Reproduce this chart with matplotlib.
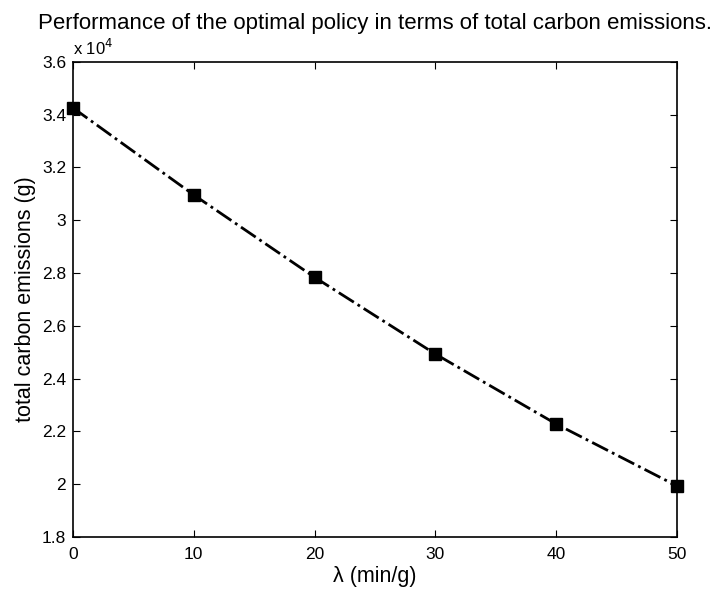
import matplotlib.pyplot as plt
from matplotlib.ticker import FuncFormatter

# datos
lam = [0, 10, 20, 30, 40, 50]
emissions = [34260, 30960, 27840, 24930, 22280, 19930]   # gramos
y_ticks = [18000, 20000, 22000, 24000, 26000, 28000, 30000, 32000, 34000, 36000]
x_ticks = [0, 10, 20, 30, 40, 50]

plt.rcParams['font.family'] = ['Liberation Sans', 'DejaVu Sans']

fig = plt.figure(figsize=(7.15, 5.95), dpi=100)
ax = fig.add_axes([0.102, 0.0975, 0.845, 0.7985])

ax.plot(lam, emissions, color='black', linestyle='-.', linewidth=2,
        marker='s', markersize=8.5, clip_on=False, zorder=3)

ax.set_xlim(0, 50)
ax.set_ylim(18000, 36000)
ax.set_xticks(x_ticks)
ax.set_yticks(y_ticks)
ax.yaxis.set_major_formatter(FuncFormatter(lambda v, p: '%g' % (v / 1e4)))

# estilo tipo MATLAB: ticks hacia dentro en los cuatro lados
ax.tick_params(axis='both', direction='in', top=True, right=True,
               labelsize=12.5, length=5, width=0.8)
ax.tick_params(axis='x', pad=7)
ax.tick_params(axis='y', pad=5)
for s in ax.spines.values():
    s.set_linewidth(1.2)

ax.text(0.0, 1.008, r'x 10$^4$', transform=ax.transAxes, fontsize=12,
        ha='left', va='bottom')

ax.set_title('Performance of the optimal policy in terms of total carbon emissions.',
             fontsize=16, pad=24)
ax.set_xlabel('λ (min/g)', fontsize=15.5, labelpad=3)
ax.set_ylabel('total carbon emissions (g)', fontsize=15.5, labelpad=4)

fig.savefig('out.png', dpi=100)
